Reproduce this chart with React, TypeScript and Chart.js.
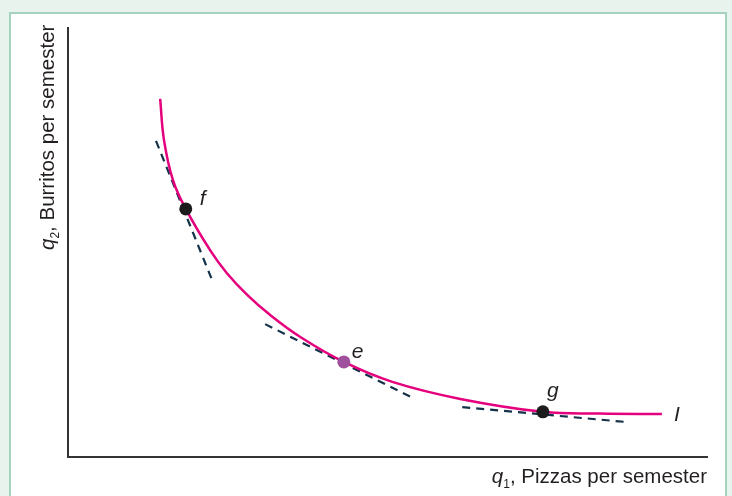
import React, { useEffect, useRef } from 'react';
import { Chart, registerables } from 'chart.js';

Chart.register(...registerables);

// Indifference curve I (q1 = pizzas, q2 = burritos), arbitrary units 0-100
const curveX = [14.4, 15.0, 16.4, 18.4, 22.2, 24.8, 28.0, 31.6, 36.3, 43.1, 50.8, 61.3, 74.2, 83.1, 92.8];
const curveY = [83.3, 73.7, 64.4, 57.7, 48.1, 42.8, 37.7, 33.0, 27.9, 22.1, 17.4, 13.5, 10.5, 10.1, 10.0];

// Bundles on the curve
const pointLabels = ['f', 'e', 'g'];
const pointsX = [18.4, 43.1, 74.2];
const pointsY = [57.7, 22.1, 10.5];

// Tangent (MRS) lines at f, e, g
const tangentFX = [13.75, 22.5];
const tangentFY = [73.5, 41.2];
const tangentEX = [30.8, 54.2];
const tangentEY = [30.9, 13.5];
const tangentGX = [61.6, 87.5];
const tangentGY = [11.6, 8.1];

const curveLabel = 'I';
const xTitleVar = 'q';
const xTitleSub = '1';
const xTitleText = ', Pizzas per semester';
const yTitleVar = 'q';
const yTitleSub = '2';
const yTitleText = ', Burritos per semester';

const FONT = "'Liberation Sans', Arial, Helvetica, sans-serif";
const TEXT_COLOR = '#231f20';
const pointColors = ['#1c1c1c', '#a0519e', '#1c1c1c'];
const labelOffsets = [
  [14, -4],
  [8, -4],
  [4, -15],
];

const toXY = (xs: number[], ys: number[]) => xs.map((x, i) => ({ x, y: ys[i] }));

const decorPlugin = {
  id: 'decor',
  beforeDraw(chart: any) {
    const { ctx, width, height } = chart;
    ctx.save();
    ctx.fillStyle = '#e8f3ee';
    ctx.fillRect(0, 0, width, height);
    ctx.fillStyle = '#ffffff';
    ctx.fillRect(10, 13, 716, height);
    ctx.strokeStyle = '#a3d3bd';
    ctx.lineWidth = 2;
    ctx.beginPath();
    ctx.moveTo(10, height + 5);
    ctx.lineTo(10, 13);
    ctx.lineTo(726, 13);
    ctx.lineTo(726, height + 5);
    ctx.stroke();
    ctx.restore();
  },
  afterDatasetsDraw(chart: any) {
    const { ctx, chartArea, scales } = chart;
    const { left, right, top, bottom } = chartArea;
    ctx.save();
    // axes
    ctx.strokeStyle = '#333333';
    ctx.lineWidth = 2;
    ctx.beginPath();
    ctx.moveTo(left, top);
    ctx.lineTo(left, bottom);
    ctx.lineTo(right, bottom);
    ctx.stroke();

    // point labels
    ctx.fillStyle = TEXT_COLOR;
    ctx.font = `italic 21px ${FONT}`;
    ctx.textAlign = 'left';
    ctx.textBaseline = 'alphabetic';
    pointLabels.forEach((lab, i) => {
      const px = scales.x.getPixelForValue(pointsX[i]);
      const py = scales.y.getPixelForValue(pointsY[i]);
      ctx.fillText(lab, px + labelOffsets[i][0], py + labelOffsets[i][1]);
    });
    // curve label
    const n = curveX.length - 1;
    ctx.fillText(
      curveLabel,
      scales.x.getPixelForValue(curveX[n]) + 12,
      scales.y.getPixelForValue(curveY[n]) + 7
    );

    // x axis title (right aligned)
    const mainF = `20.5px ${FONT}`;
    const varF = `italic 20.5px ${FONT}`;
    const subF = `12px ${FONT}`;
    ctx.font = varF;
    const wVar = ctx.measureText(xTitleVar).width;
    ctx.font = subF;
    const wSub = ctx.measureText(xTitleSub).width;
    ctx.font = mainF;
    const wText = ctx.measureText(xTitleText).width;
    let x = right - 1 - (wVar + wSub + wText);
    const base = bottom + 26;
    ctx.font = varF;
    ctx.fillText(xTitleVar, x, base);
    x += wVar;
    ctx.font = subF;
    ctx.fillText(xTitleSub, x, base + 5);
    x += wSub;
    ctx.font = mainF;
    ctx.fillText(xTitleText, x, base);

    // y axis title (rotated, starting at bottom)
    ctx.translate(left - 14, 250);
    ctx.rotate(-Math.PI / 2);
    let yx = 0;
    ctx.font = varF;
    ctx.fillText(yTitleVar, yx, 0);
    yx += ctx.measureText(yTitleVar).width;
    ctx.font = subF;
    ctx.fillText(yTitleSub, yx, 5);
    yx += ctx.measureText(yTitleSub).width;
    ctx.font = mainF;
    ctx.fillText(yTitleText, yx, 0);
    ctx.restore();
  },
};

export default function App() {
  const canvasRef = useRef<HTMLCanvasElement | null>(null);

  useEffect(() => {
    if (!canvasRef.current) return;
    const dashed = {
      borderColor: '#14334a',
      borderWidth: 2.2,
      borderDash: [8, 6],
      pointRadius: 0,
      fill: false,
      order: 2,
    };
    const chart = new Chart(canvasRef.current, {
      type: 'line',
      data: {
        datasets: [
          {
            label: 'points',
            data: toXY(pointsX, pointsY),
            showLine: false,
            pointRadius: 6.5,
            pointBorderWidth: 0,
            pointBackgroundColor: pointColors,
            pointBorderColor: pointColors,
            order: 0,
          },
          {
            label: 'I',
            data: toXY(curveX, curveY),
            borderColor: '#e5007d',
            borderWidth: 2.5,
            pointRadius: 0,
            tension: 0.4,
            fill: false,
            order: 1,
          },
          { label: 'tf', data: toXY(tangentFX, tangentFY), ...dashed },
          { label: 'te', data: toXY(tangentEX, tangentEY), ...dashed },
          { label: 'tg', data: toXY(tangentGX, tangentGY), ...dashed },
        ] as any,
      },
      options: {
        animation: false,
        responsive: false,
        devicePixelRatio: 1,
        layout: { padding: { left: 68, right: 24, top: 27, bottom: 39 } },
        plugins: {
          legend: { display: false },
          tooltip: { enabled: false },
          title: { display: false },
        },
        scales: {
          x: { type: 'linear', min: 0, max: 100, display: false },
          y: { type: 'linear', min: 0, max: 100, display: false },
        },
      },
      plugins: [decorPlugin],
    });
    return () => chart.destroy();
  }, []);

  return (
    <div style={{ position: 'fixed', left: 0, top: 0, width: 732, height: 496 }}>
      <canvas ref={canvasRef} width={732} height={496} />
    </div>
  );
}
